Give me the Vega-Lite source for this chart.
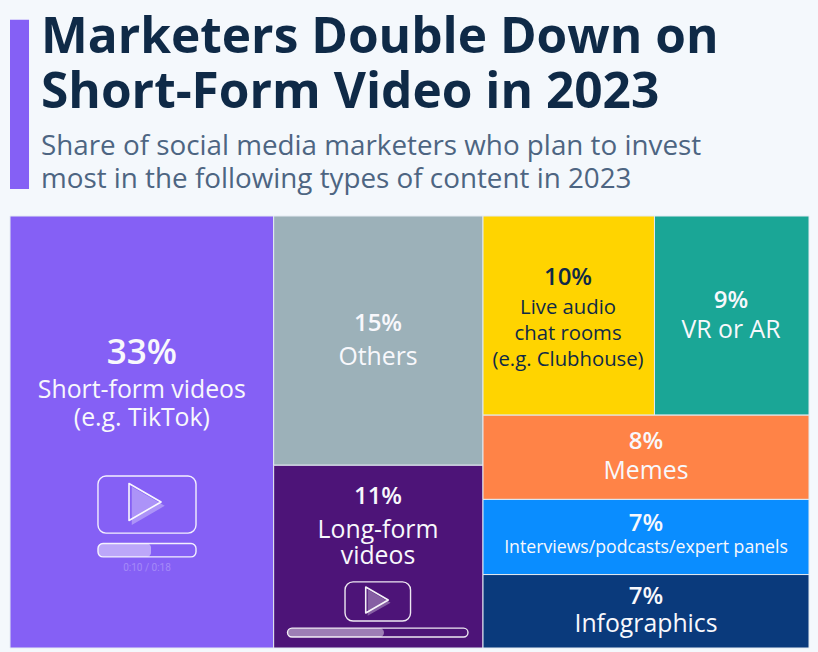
{"$schema":"https://vega.github.io/schema/vega-lite/v6.json","width":799,"height":432,"autosize":{"type":"none"},"padding":{"left":10,"top":216,"right":9,"bottom":4},"background":"#f4f8fc","config":{"view":{"stroke":null}},"title":{"text":["Marketers Double Down on","Short-Form Video in 2023"],"subtitle":["Share of social media marketers who plan to invest","most in the following types of content in 2023"],"anchor":"start","frame":"group","dx":31,"offset":-175,"font":"Open Sans","fontSize":49.6,"fontWeight":"bold","color":"#0f2a47","lineHeight":55,"subtitleFont":"Open Sans","subtitleFontSize":27.8,"subtitleFontWeight":"normal","subtitleColor":"#4d6582","subtitleLineHeight":33,"subtitlePadding":14},"datasets":{"cells":[{"category":"Short-form videos","share":33,"x0":0,"x1":33,"y0":0,"y1":100},{"category":"Others","share":15,"x0":33,"x1":59.2,"y0":0,"y1":57.7},{"category":"Long-form videos","share":11,"x0":33,"x1":59.2,"y0":57.7,"y1":100},{"category":"Live audio chat rooms","share":10,"x0":59.2,"x1":80.66,"y0":0,"y1":46.1},{"category":"VR or AR","share":9,"x0":80.66,"x1":100,"y0":0,"y1":46.1},{"category":"Memes","share":8,"x0":59.2,"x1":100,"y0":46.1,"y1":65.6},{"category":"Interviews/podcasts/expert panels","share":7,"x0":59.2,"x1":100,"y0":65.6,"y1":83},{"category":"Infographics","share":7,"x0":59.2,"x1":100,"y0":83,"y1":100}],"accent":[{"x0":0,"x1":2.38,"y0":-45.4,"y1":-6.25}],"pct":[{"category":"Short-form videos","t":"33%","x":16.5,"y":34.2},{"category":"Others","t":"15%","x":46.06,"y":26.6},{"category":"Long-form videos","t":"11%","x":46.06,"y":66.7},{"category":"Live audio chat rooms","t":"10%","x":69.84,"y":16},{"category":"VR or AR","t":"9%","x":90.24,"y":21.3},{"category":"Memes","t":"8%","x":79.6,"y":53.9},{"category":"Interviews/podcasts/expert panels","t":"7%","x":79.6,"y":72.9},{"category":"Infographics","t":"7%","x":79.6,"y":89.8}],"names":[{"category":"Short-form videos","t":"Short-form videos","x":16.5,"y":42.1},{"category":"Short-form videos","t":"(e.g. TikTok)","x":16.5,"y":48.6},{"category":"Others","t":"Others","x":46.06,"y":34.5},{"category":"Long-form videos","t":"Long-form","x":46.06,"y":74.5},{"category":"Long-form videos","t":"videos","x":46.06,"y":80.6},{"category":"Live audio chat rooms","t":"Live audio","x":69.84,"y":22.7},{"category":"Live audio chat rooms","t":"chat rooms","x":69.84,"y":28.7},{"category":"Live audio chat rooms","t":"(e.g. Clubhouse)","x":69.84,"y":34.7},{"category":"VR or AR","t":"VR or AR","x":90.24,"y":28.2},{"category":"Memes","t":"Memes","x":79.6,"y":60.9},{"category":"Interviews/podcasts/expert panels","t":"Interviews/podcasts/expert panels","x":79.6,"y":78},{"category":"Infographics","t":"Infographics","x":79.6,"y":96.3}],"screens":[{"x0":11.01,"x1":23.28,"y0":60.2,"y1":73.4},{"x0":41.93,"x1":50.13,"y0":84.7,"y1":93.75}],"bars":[{"x0":11.01,"x1":23.28,"y0":75.8,"y1":78.9},{"x0":34.73,"x1":57.32,"y0":95.4,"y1":97.45}],"progress":[{"x0":11.01,"x1":17.65,"y0":75.8,"y1":78.9},{"x0":34.73,"x1":46.8,"y0":95.4,"y1":97.45}],"plays":[{"icon":"large","x":16.9,"y":66.2},{"icon":"small","x":45.93,"y":88.9}],"shadows":[{"icon":"large","x":17.3,"y":67.1},{"icon":"small","x":46.2,"y":89.5}],"clock":[{"t":"0:10 / 0:18","x":17.15,"y":82.2}]},"layer":[{"data":{"name":"cells"},"mark":{"type":"rect","stroke":"#e4ebf2","strokeWidth":1},"encoding":{"x":{"field":"x0","type":"quantitative","scale":{"domain":[0,100],"nice":false,"zero":false},"axis":null},"x2":{"field":"x1"},"y":{"field":"y0","type":"quantitative","scale":{"domain":[0,100],"reverse":true,"nice":false,"zero":false},"axis":null},"y2":{"field":"y1"},"fill":{"field":"category","type":"nominal","legend":null,"scale":{"domain":["Short-form videos","Others","Long-form videos","Live audio chat rooms","VR or AR","Memes","Interviews/podcasts/expert panels","Infographics"],"range":["#8560f5","#9cb1b9","#4d1478","#ffd400","#1aa696","#ff8347","#0a8dff","#0a3a7c"]}}}},{"data":{"name":"accent"},"mark":{"type":"rect","fill":"#8560f5"},"encoding":{"x":{"field":"x0","type":"quantitative"},"x2":{"field":"x1"},"y":{"field":"y0","type":"quantitative"},"y2":{"field":"y1"}}},{"data":{"name":"shadows"},"mark":{"type":"point","shape":"triangle-right","filled":true,"fill":"#ffffff","opacity":0.32,"strokeWidth":0,"strokeJoin":"round"},"encoding":{"x":{"field":"x","type":"quantitative"},"y":{"field":"y","type":"quantitative"},"size":{"field":"icon","type":"nominal","legend":null,"scale":{"type":"ordinal","domain":["large","small"],"range":[1450,700]}}}},{"data":{"name":"plays"},"mark":{"type":"point","shape":"triangle-right","filled":false,"stroke":"#ffffff","strokeWidth":1.6,"strokeJoin":"round","opacity":0.95},"encoding":{"x":{"field":"x","type":"quantitative"},"y":{"field":"y","type":"quantitative"},"size":{"field":"icon","type":"nominal","legend":null,"scale":{"type":"ordinal","domain":["large","small"],"range":[1369,676]}}}},{"data":{"name":"screens"},"mark":{"type":"rect","fill":"transparent","stroke":"#ffffff","strokeWidth":1.4,"cornerRadius":8,"opacity":0.9},"encoding":{"x":{"field":"x0","type":"quantitative"},"x2":{"field":"x1"},"y":{"field":"y0","type":"quantitative"},"y2":{"field":"y1"}}},{"data":{"name":"progress"},"mark":{"type":"rect","fill":"#ffffff","opacity":0.45,"cornerRadius":4},"encoding":{"x":{"field":"x0","type":"quantitative"},"x2":{"field":"x1"},"y":{"field":"y0","type":"quantitative"},"y2":{"field":"y1"}}},{"data":{"name":"bars"},"mark":{"type":"rect","fill":"transparent","stroke":"#ffffff","strokeWidth":1.4,"cornerRadius":5,"opacity":0.9},"encoding":{"x":{"field":"x0","type":"quantitative"},"x2":{"field":"x1"},"y":{"field":"y0","type":"quantitative"},"y2":{"field":"y1"}}},{"data":{"name":"clock"},"mark":{"type":"text","font":"Roboto","fontSize":10,"align":"center","baseline":"alphabetic","color":"#ffffff","opacity":0.25},"encoding":{"x":{"field":"x","type":"quantitative"},"y":{"field":"y","type":"quantitative"},"text":{"field":"t"}}},{"data":{"name":"pct"},"mark":{"type":"text","font":"Open Sans","fontWeight":600,"align":"center","baseline":"alphabetic"},"encoding":{"x":{"field":"x","type":"quantitative"},"y":{"field":"y","type":"quantitative"},"text":{"field":"t"},"size":{"field":"category","type":"nominal","legend":null,"scale":{"type":"ordinal","domain":["Short-form videos","Others","Long-form videos","Live audio chat rooms","VR or AR","Memes","Interviews/podcasts/expert panels","Infographics"],"range":[35,24,24,24,24,24,24,24]}},"color":{"condition":{"test":"datum.category === 'Live audio chat rooms'","value":"#0f2a47"},"value":"#f8f8fc"}}},{"data":{"name":"names"},"mark":{"type":"text","font":"Open Sans","fontWeight":"normal","align":"center","baseline":"alphabetic"},"encoding":{"x":{"field":"x","type":"quantitative"},"y":{"field":"y","type":"quantitative"},"text":{"field":"t"},"size":{"field":"category","type":"nominal","legend":null,"scale":{"type":"ordinal","domain":["Short-form videos","Others","Long-form videos","Live audio chat rooms","VR or AR","Memes","Interviews/podcasts/expert panels","Infographics"],"range":[24.8,24.8,24.8,20.3,24.8,24.8,17.7,24.8]}},"color":{"condition":{"test":"datum.category === 'Live audio chat rooms'","value":"#0f2a47"},"value":"#f8f8fc"}}}],"resolve":{"scale":{"size":"independent"}}}
